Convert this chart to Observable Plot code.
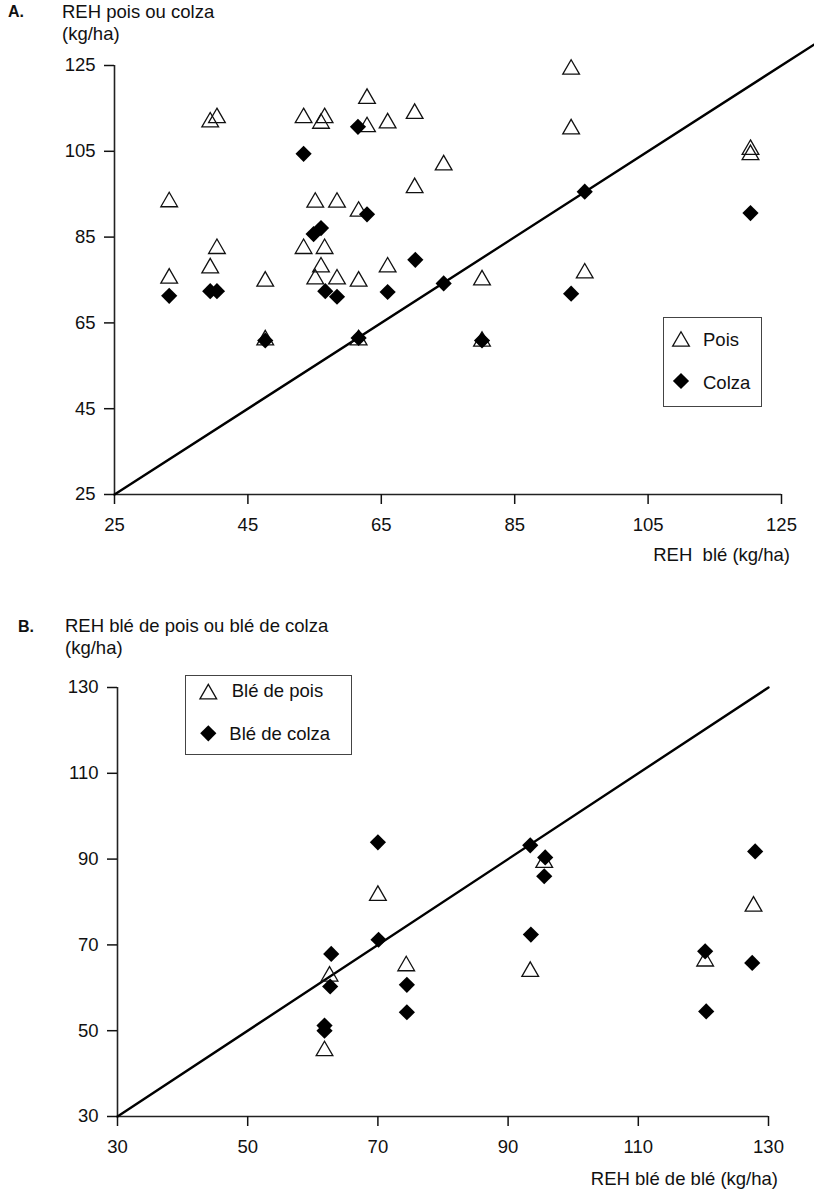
<!DOCTYPE html>
<html>
<head>
<meta charset="utf-8">
<script src="https://cdn.jsdelivr.net/npm/d3@7"></script>
<script src="https://cdn.jsdelivr.net/npm/@observablehq/plot@0.6"></script>
<style>
  html, body { margin: 0; padding: 0; background: #fff; }
  body { font-family: "Liberation Sans", Arial, Helvetica, sans-serif; color: #111; }
  #root { position: relative; width: 814px; height: 1197px; overflow: hidden; }
  .abs { position: absolute; white-space: pre; font-size: 18.5px; line-height: 1; }
  .lbl { font-weight: bold; font-size: 16px; }
  .legend { position: absolute; border: 1.5px solid #444; box-sizing: border-box; }
  .plot { position: absolute; left: 0; }
</style>
</head>
<body>
<div id="root"></div>
<script>
// ---------- Panel A data: REH pois / colza vs REH blé (kg/ha) ----------
const ticksA = [25, 45, 65, 85, 105, 125];
const diagA = [25, 131];          // 1:1 line
const poisA = [
  [33.2, 93.2], [33.2, 75.4], [39.35, 111.8], [40.36, 112.8], [39.35, 77.8], [40.36, 82.3],
  [47.6, 74.7], [47.6, 61.0], [53.35, 112.8], [55.96, 111.5], [56.5, 112.8], [53.35, 82.3],
  [56.5, 82.3], [55.1, 93.1], [58.36, 93.1], [55.96, 78.0], [55.1, 75.2], [58.36, 75.2],
  [61.6, 91.0], [61.6, 74.7], [61.6, 61.0], [62.86, 117.3], [62.86, 110.7], [65.95, 111.6],
  [65.95, 78.0], [70.0, 113.8], [70.0, 96.5], [74.35, 101.8], [80.1, 75.0], [80.1, 60.7],
  [93.46, 124.1], [93.46, 110.2], [95.5, 76.6], [120.35, 105.4], [120.35, 104.2]
];
const colzaA = [
  [33.2, 71.3], [39.35, 72.4], [40.36, 72.4], [47.6, 60.9], [53.35, 104.4], [54.85, 85.7],
  [55.96, 87.1], [56.6, 72.4], [58.36, 71.1], [61.5, 110.7], [62.86, 90.3], [61.6, 61.5],
  [65.95, 72.2], [70.1, 79.7], [74.35, 74.2], [80.1, 60.9], [93.46, 71.8], [95.5, 95.6],
  [120.35, 90.6]
];

// ---------- Panel B data: REH blé de pois / blé de colza vs REH blé de blé ----------
const ticksB = [30, 50, 70, 90, 110, 130];
const diagB = [30, 130];          // 1:1 line
const blePois = [
  [61.8, 45.3], [62.57, 62.7], [70.0, 81.5], [74.35, 65.1], [93.4, 63.8], [95.55, 89.2],
  [120.27, 66.2], [127.7, 79.0]
];
const bleColza = [
  [61.8, 51.2], [61.8, 50.0], [62.67, 60.3], [62.83, 67.9], [70.1, 71.2], [70.0, 93.9],
  [74.45, 60.7], [74.45, 54.3], [93.4, 93.2], [93.5, 72.4], [95.7, 90.4], [95.55, 86.0],
  [120.27, 68.5], [120.43, 54.5], [127.95, 91.8], [127.5, 65.8]
];

// ---------- Texts ----------
const textsA = { tag: "A.", title: "REH pois ou colza", unit: "(kg/ha)", xlabel: "REH  blé (kg/ha)", leg: ["Pois", "Colza"] };
const textsB = { tag: "B.", title: "REH blé de pois ou blé de colza", unit: "(kg/ha)", xlabel: "REH blé de blé (kg/ha)", leg: ["Blé de pois", "Blé de colza"] };

const FONT = '"Liberation Sans", Arial, Helvetica, sans-serif';
const root = document.getElementById("root");

const TRI_R = 6.2, DIA_R = 7.3;

function makePanel(o) {
  const chart = Plot.plot({
    width: 814, height: o.height,
    marginLeft: o.mL, marginRight: o.mR, marginTop: o.mT, marginBottom: o.mB,
    x: { domain: o.domain },
    y: { domain: o.domain },
    style: { fontFamily: FONT, fontSize: "18.5px", color: "#111", background: "transparent" },
    marks: [
      Plot.ruleY([o.domain[0]], { stroke: "#222", strokeWidth: 1.6 }),
      Plot.ruleX([o.domain[0]], { stroke: "#222", strokeWidth: 1.6 }),
      Plot.axisX({ ticks: o.ticks, tickSize: 10, tickPadding: 13, label: null, strokeWidth: 1.5, fontSize: 18.5, tickFormat: d => String(d) }),
      Plot.axisY({ ticks: o.ticks, tickSize: 10, tickPadding: 9, label: null, strokeWidth: 1.5, fontSize: 18.5, tickFormat: d => String(d) }),
      Plot.line(o.diag, { x: d => d, y: d => d, stroke: "#000", strokeWidth: 2.4, clip: false }),
      Plot.dot(o.tri, { x: d => d[0], y: d => d[1], symbol: "triangle", r: TRI_R, stroke: "#111", strokeWidth: 1.3, fill: "none" }),
      Plot.dot(o.dia, { x: d => d[0], y: d => d[1], symbol: "diamond2", r: DIA_R, fill: "#000", stroke: "none" })
    ]
  });
  chart.classList.add("plot");
  chart.style.top = o.top + "px";
  root.appendChild(chart);
}

function addText(txt, left, top, cls, right) {
  const d = document.createElement("div");
  d.className = "abs" + (cls ? " " + cls : "");
  d.textContent = txt;
  if (right != null) d.style.right = right + "px"; else d.style.left = left + "px";
  d.style.top = top + "px";
  root.appendChild(d);
}

function symPath(type, r) {
  return d3.symbol(type, r * r * Math.PI)();
}

function addLegend(box, items) {
  const b = document.createElement("div");
  b.className = "legend";
  Object.assign(b.style, { left: box.x + "px", top: box.y + "px", width: box.w + "px", height: box.h + "px" });
  root.appendChild(b);
  const svg = d3.select(root).append("svg")
    .attr("width", 814).attr("height", 1197)
    .style("position", "absolute").style("left", 0).style("top", 0).style("pointer-events", "none");
  items.forEach(it => {
    const g = svg.append("path")
      .attr("d", symPath(it.type === "tri" ? d3.symbolTriangle : d3.symbolDiamond2, it.type === "tri" ? TRI_R : DIA_R))
      .attr("transform", `translate(${it.sx},${it.sy})`);
    if (it.type === "tri") g.attr("fill", "none").attr("stroke", "#111").attr("stroke-width", 1.3);
    else g.attr("fill", "#000");
    addText(it.label, it.tx, it.ty);
  });
}

// Panel A
makePanel({ height: 534, mL: 114, mR: 33, mT: 65, mB: 40, domain: [25, 125], ticks: ticksA, diag: diagA, tri: poisA, dia: colzaA, top: 0 });
addText(textsA.tag, 8, 4, "lbl");
addText(textsA.title, 62, 2.8);
addText(textsA.unit, 62, 24.6);
addText(textsA.xlabel, 0, 545.5, null, 24);
addLegend({ x: 663, y: 317, w: 99, h: 90 }, [
  { type: "tri", sx: 681, sy: 341.4, label: textsA.leg[0], tx: 703, ty: 331 },
  { type: "dia", sx: 681, sy: 381, label: textsA.leg[1], tx: 703, ty: 373.6 }
]);

// Panel B
makePanel({ height: 556, mL: 117, mR: 46, mT: 87, mB: 40, domain: [30, 130], ticks: ticksB, diag: diagB, tri: blePois, dia: bleColza, top: 600 });
addText(textsB.tag, 18, 619, "lbl");
addText(textsB.title, 65, 617);
addText(textsB.unit, 65, 639.3);
addText(textsB.xlabel, 0, 1169.5, null, 36);
addLegend({ x: 185, y: 675, w: 167, h: 80 }, [
  { type: "tri", sx: 208.3, sy: 694, label: textsB.leg[0], tx: 231.7, ty: 682.3 },
  { type: "dia", sx: 208.3, sy: 733.3, label: textsB.leg[1], tx: 229.3, ty: 725 }
]);
</script>
</body>
</html>
